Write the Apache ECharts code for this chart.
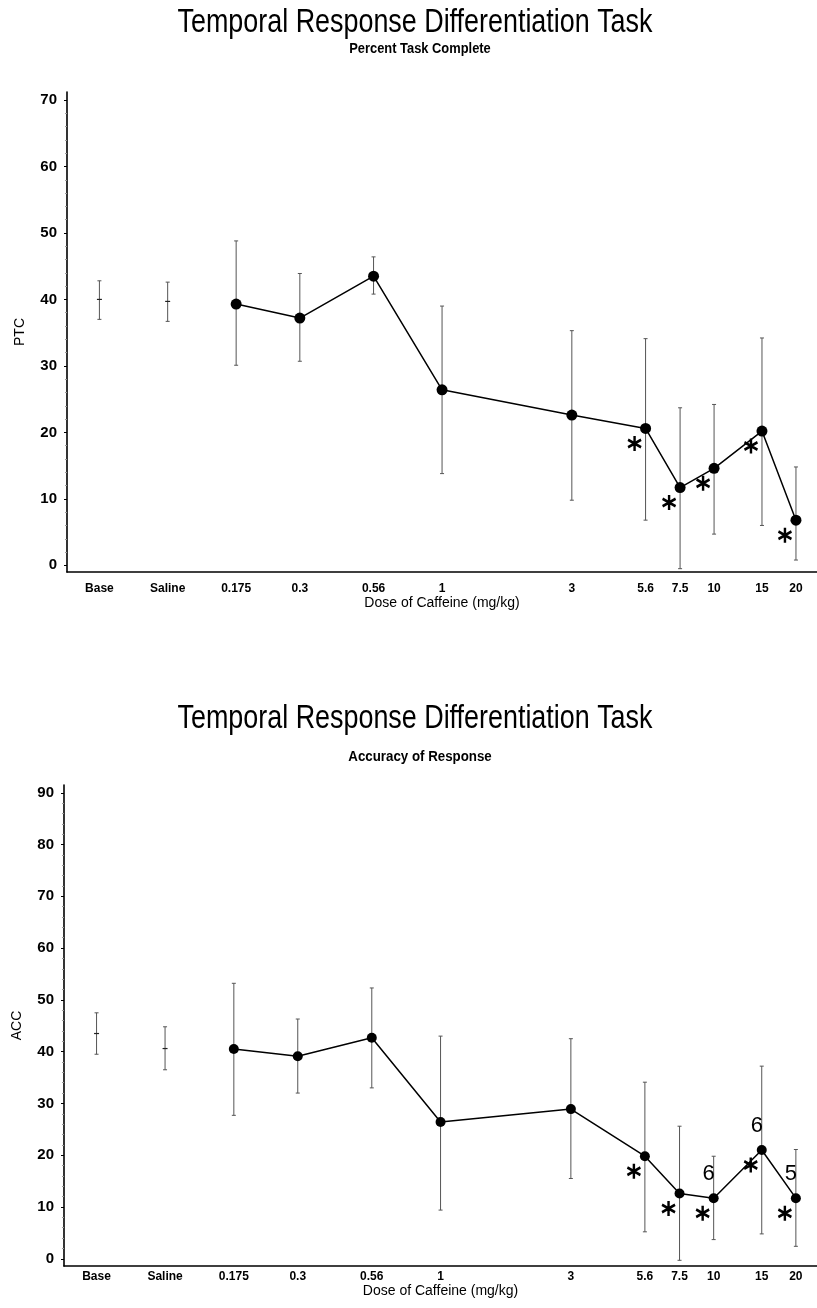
<!DOCTYPE html>
<html>
<head>
<meta charset="utf-8">
<script src="https://cdn.jsdelivr.net/npm/echarts@6/dist/echarts.min.js"></script>
<style>html,body{margin:0;padding:0;background:#fff}#c{width:817px;height:1308px}</style>
</head>
<body>
<div id="c"></div>
<script>
// ---- data ----
const doses = [0.175, 0.3, 0.56, 1, 3, 5.6, 7.5, 10, 15, 20];
const doseLabels = ['0.175', '0.3', '0.56', '1', '3', '5.6', '7.5', '10', '15', '20'];
const controls = ['Base', 'Saline'];

// Percent Task Complete
const ptcCtrlMean = [40.0, 39.7];
const ptcCtrlHigh = [42.8, 42.6];
const ptcCtrlLow = [37.0, 36.7];
const ptcMean = [39.3, 37.2, 43.5, 26.4, 22.6, 20.6, 11.7, 14.6, 20.2, 6.8];
const ptcHigh = [48.8, 43.9, 46.4, 39.0, 35.3, 34.1, 23.7, 24.2, 34.2, 14.8];
const ptcLow = [30.1, 30.7, 40.8, 13.8, 9.8, 6.8, -0.5, 4.7, 6.0, 0.8];
const ptcSig = [5.6, 7.5, 10, 15, 20];

// Accuracy of Response
const accCtrlMean = [43.5, 40.6];
const accCtrlHigh = [47.5, 44.8];
const accCtrlLow = [39.5, 36.5];
const accMean = [40.5, 39.1, 42.7, 26.4, 28.9, 19.8, 12.6, 11.7, 21.0, 11.7];
const accHigh = [53.2, 46.3, 52.3, 43.0, 42.5, 34.1, 25.6, 19.8, 37.2, 21.1];
const accLow = [27.7, 32.0, 33.0, 9.4, 15.5, 5.2, -0.3, 3.7, 4.8, 2.4];
const accSig = [5.6, 7.5, 10, 15, 20];
const accN = [[10, '6'], [15, '6'], [20, '5']];

const ptcTicks = [0, 10, 20, 30, 40, 50, 60, 70];
const accTicks = [0, 10, 20, 30, 40, 50, 60, 70, 80, 90];

const mainTitle = 'Temporal Response Differentiation Task';
const subTitles = ['Percent Task Complete', 'Accuracy of Response'];

// axis placement of the two control conditions on the log dose axis
const controlX = [0.055, 0.098];

// ---- helpers ----
const FR = "'Liberation Sans',Arial,sans-serif";
const allX = controlX.concat(doses);
const allLab = controls.concat(doseLabels);
function xLabel(v) {
  for (let i = 0; i < allX.length; i++) {
    if (Math.abs(v - allX[i]) / allX[i] < 1e-4) return allLab[i];
  }
  return '';
}
function minorList(maxV) {
  const a = [];
  for (let v = 2; v < maxV; v += 2) if (v % 10 !== 0) a.push(v);
  return a;
}
function errSeries(gi, pts, withCenter) {
  return {
    type: 'custom', xAxisIndex: gi, yAxisIndex: gi * 2, z: 2, silent: true,
    data: pts,
    renderItem: function (params, api) {
      const x = api.value(0), lo = api.value(1), hi = api.value(2), m = api.value(3);
      const pLo = api.coord([x, lo]), pHi = api.coord([x, hi]);
      const st = { stroke: '#555', lineWidth: 1 };
      const ch = [
        { type: 'line', shape: { x1: pLo[0], y1: pLo[1], x2: pHi[0], y2: pHi[1] }, style: st },
        { type: 'line', shape: { x1: pLo[0] - 2, y1: pLo[1], x2: pLo[0] + 2, y2: pLo[1] }, style: st },
        { type: 'line', shape: { x1: pHi[0] - 2, y1: pHi[1], x2: pHi[0] + 2, y2: pHi[1] }, style: st }
      ];
      if (withCenter) {
        const pm = api.coord([x, m]);
        ch.push({ type: 'line', shape: { x1: pm[0] - 2.5, y1: pm[1], x2: pm[0] + 2.5, y2: pm[1] }, style: { stroke: '#222', lineWidth: 1.2 } });
      }
      return { type: 'group', children: ch };
    }
  };
}
const starPath = 'path://M0,-10L0,10M-8.66,-5L8.66,5M-8.66,5L8.66,-5';
function starSeries(gi, sig, mean) {
  return {
    type: 'scatter', xAxisIndex: gi, yAxisIndex: gi * 2, z: 5, silent: true,
    symbol: starPath, symbolSize: [13, 15], symbolOffset: [-11, 15],
    itemStyle: { color: 'rgba(0,0,0,0)', borderColor: '#000', borderWidth: 2.6, opacity: 1 },
    data: sig.map(d => [d, mean[doses.indexOf(d)]])
  };
}
function xAxisDef(gridIdx, margin, gap) {
  return {
    type: 'log', logBase: 10, gridIndex: gridIdx, min: 0.0418, max: 23.9,
    name: 'Dose of Caffeine (mg/kg)', nameLocation: 'middle', nameGap: gap,
    nameTextStyle: { fontFamily: FR, fontSize: 14, color: '#000', fontWeight: 'normal' },
    axisLine: { show: true, onZero: false, lineStyle: { color: '#000', width: 1.6 } },
    axisTick: { show: false },
    splitLine: { show: false }, minorSplitLine: { show: false },
    axisLabel: {
      customValues: allX, formatter: xLabel, margin: margin,
      fontFamily: FR, fontSize: 12, fontWeight: 'bold', color: '#000'
    }
  };
}
function yAxisDefs(gridIdx, name, mn, mx, ticks) {
  return [{
    type: 'value', gridIndex: gridIdx, min: mn, max: mx,
    name: name, nameLocation: 'middle', nameGap: 40,
    nameTextStyle: { fontFamily: FR, fontSize: 14, color: '#000' },
    axisLine: { show: true, onZero: false, lineStyle: { color: '#000', width: 1.6 } },
    axisTick: { show: true, customValues: ticks, length: 3, lineStyle: { color: '#000' } },
    axisLabel: { customValues: ticks, margin: 10, fontFamily: FR, fontSize: 15, fontWeight: 'bold', color: '#000' },
    splitLine: { show: false }
  }, {
    type: 'value', gridIndex: gridIdx, min: mn, max: mx, position: 'left',
    axisLine: { show: false },
    axisTick: { show: true, customValues: minorList(ticks[ticks.length - 1]), length: 2, lineStyle: { color: '#999' } },
    axisLabel: { show: false }, splitLine: { show: false }
  }];
}
function lineSeries(gi, mean, size) {
  return {
    type: 'line', xAxisIndex: gi, yAxisIndex: gi * 2, z: 4, silent: true,
    data: doses.map((d, i) => [d, mean[i]]),
    symbol: 'circle', symbolSize: size,
    itemStyle: { color: '#000' },
    lineStyle: { color: '#000', width: 1.5 }
  };
}
function titleText(txt, x, y, size, weight, sx) {
  return {
    type: 'text', x: x, y: y, scaleX: sx, scaleY: 1, silent: true,
    style: { text: txt, fill: '#000', font: weight + ' ' + size + 'px ' + FR, textAlign: 'center', textVerticalAlign: 'top' }
  };
}

const option = {
  backgroundColor: '#fff',
  animation: false,
  graphic: [
    titleText(mainTitle, 415, 6, 33, 'normal', 0.815),
    titleText(subTitles[0], 420, 42, 14, 'bold', 0.92),
    titleText(mainTitle, 415, 702, 33, 'normal', 0.815),
    titleText(subTitles[1], 420, 750, 14, 'bold', 0.95)
  ],
  grid: [
    { left: 67, top: 92, right: 0, height: 480, containLabel: false },
    { left: 64, top: 785, right: 0, height: 481, containLabel: false }
  ],
  xAxis: [xAxisDef(0, 11, 22), xAxisDef(1, 5, 15)],
  yAxis: yAxisDefs(0, 'PTC', -1, 71.2, ptcTicks).concat(yAxisDefs(1, 'ACC', -1.4, 91.5, accTicks)),
  series: [
    errSeries(0, controlX.map((x, i) => [x, ptcCtrlLow[i], ptcCtrlHigh[i], ptcCtrlMean[i]]), true),
    errSeries(0, doses.map((x, i) => [x, ptcLow[i], ptcHigh[i], ptcMean[i]]), false),
    lineSeries(0, ptcMean, 11),
    starSeries(0, ptcSig, ptcMean),
    errSeries(1, controlX.map((x, i) => [x, accCtrlLow[i], accCtrlHigh[i], accCtrlMean[i]]), true),
    errSeries(1, doses.map((x, i) => [x, accLow[i], accHigh[i], accMean[i]]), false),
    lineSeries(1, accMean, 10),
    starSeries(1, accSig, accMean),
    {
      type: 'scatter', xAxisIndex: 1, yAxisIndex: 2, z: 6, silent: true,
      symbol: 'circle', symbolSize: 1, itemStyle: { color: 'rgba(0,0,0,0)', opacity: 1 },
      data: accN.map(p => [p[0], accMean[doses.indexOf(p[0])], p[1]]),
      label: { show: true, position: 'inside', offset: [-5, -24], formatter: p => p.value[2],
        fontFamily: FR, fontSize: 22, color: '#000', opacity: 1 }
    }
  ]
};
const chart = echarts.init(document.getElementById('c'), null, { renderer: 'canvas' });
chart.setOption(option);
</script>
</body>
</html>
